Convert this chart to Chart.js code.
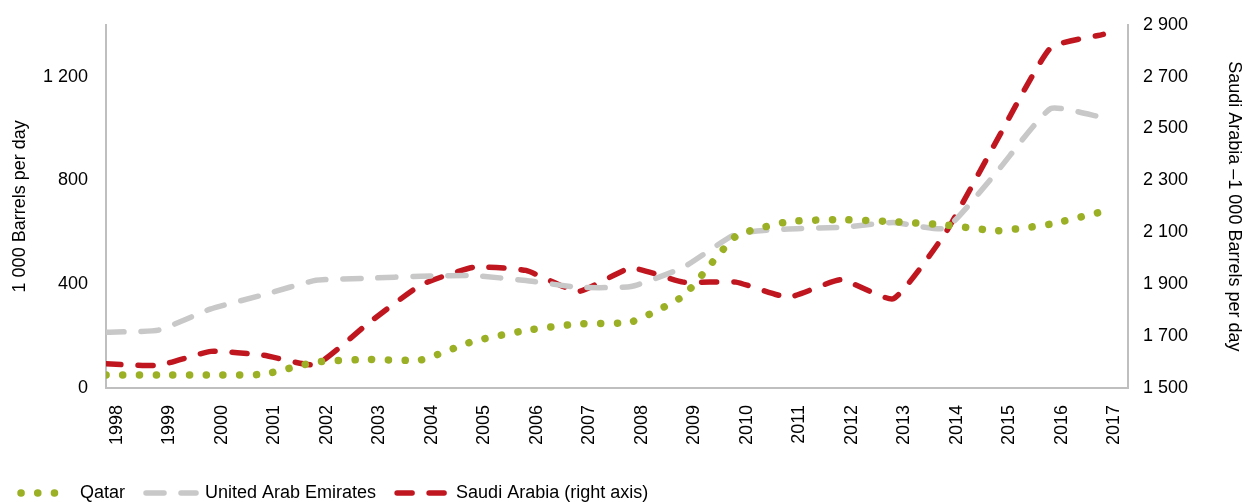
<!DOCTYPE html>
<html lang="en">
<head>
  <meta charset="UTF-8" />
  <title>Oil production - Qatar, UAE, Saudi Arabia</title>
  <script src="https://cdn.jsdelivr.net/npm/chart.js"></script>
  <style>
    html, body { margin: 0; padding: 0; background: #fff; }
    #wrap { width: 1245px; height: 502px; }
  </style>
</head>
<body>
  <div id="wrap"><canvas id="oilChart" width="1245" height="502"></canvas></div>

  <script>
    // data
    const years = ['1998', '1999', '2000', '2001', '2002', '2003', '2004', '2005', '2006', '2007',
                   '2008', '2009', '2010', '2011', '2012', '2013', '2014', '2015', '2016', '2017'];
    const qatar = [50, 50, 50, 53, 100, 110, 108, 180, 222, 247, 254, 355, 585, 641, 649, 641, 628, 606, 632, 680];
    const uae = [215, 223, 305, 359, 415, 423, 431, 433, 414, 388, 391, 465, 593, 613, 619, 638, 616, 840, 1077, 1042];
    const saudi = [1593, 1587, 1641, 1626, 1590, 1750, 1897, 1965, 1953, 1872, 1962, 1908, 1908, 1850, 1917, 1844, 2100, 2465, 2812, 2863];
    const leftTicks = [0, 400, 800, 1200];
    const rightTicks = [1500, 1700, 1900, 2100, 2300, 2500, 2700, 2900];

    const FONT = "'Liberation Sans', Arial, sans-serif";
    const axisColor = '#bfbfbf';

    function spaced(v) {
      return String(v).replace(/\B(?=(\d{3})+(?!\d))/g, ' ');
    }

    function pts(arr) {
      return arr.map((v, i) => ({ x: i, y: v }));
    }

    const ctx = document.getElementById('oilChart').getContext('2d');
    new Chart(ctx, {
      type: 'line',
      data: {
        datasets: [
          {
            label: 'Qatar',
            data: pts(qatar),
            yAxisID: 'y',
            borderColor: '#9bb024',
            backgroundColor: '#9bb024',
            borderWidth: 7.5,
            borderDash: [0.1, 16.6],
            borderCapStyle: 'round',
            pointRadius: 0,
            tension: 0.15
          },
          {
            label: 'United Arab Emirates',
            data: pts(uae),
            yAxisID: 'y',
            borderColor: '#c8c8c8',
            backgroundColor: '#c8c8c8',
            borderWidth: 5.5,
            borderDash: [18, 17],
            borderCapStyle: 'round',
            pointRadius: 0,
            tension: 0.15
          },
          {
            label: 'Saudi Arabia (right axis)',
            data: pts(saudi),
            yAxisID: 'y2',
            borderColor: '#c0161f',
            backgroundColor: '#c0161f',
            borderWidth: 5.5,
            borderDash: [15, 17],
            borderCapStyle: 'round',
            pointRadius: 0,
            tension: 0.15
          }
        ]
      },
      options: {
        responsive: false,
        animation: false,
        layout: { padding: { left: 0, right: 0, top: 12, bottom: -10 } },
        plugins: {
          tooltip: { enabled: false },
          legend: {
            position: 'bottom',
            align: 'start',
            labels: {
              usePointStyle: true,
              pointStyle: 'line',
              pointStyleWidth: 50,
              color: '#000',
              padding: 21,
              font: { family: FONT, size: 18 },
              generateLabels: chart => chart.data.datasets.map((ds, i) => ({
                text: ds.label,
                datasetIndex: i,
                fillStyle: ds.borderColor,
                strokeStyle: ds.borderColor,
                fontColor: '#000',
                lineWidth: ds.borderWidth,
                lineDash: ds.borderDash,
                lineCap: 'round',
                pointStyle: 'line',
                hidden: false
              }))
            }
          }
        },
        scales: {
          x: {
            type: 'linear',
            min: 0,
            max: 19.47,
            afterBuildTicks: s => { s.ticks = years.map((_, i) => ({ value: i })); },
            afterFit: s => { s.height += 1; },
            grid: { display: false, drawTicks: false },
            border: { display: true, color: axisColor, width: 2 },
            ticks: {
              autoSkip: false,
              minRotation: 90,
              maxRotation: 90,
              labelOffset: 11,
              padding: 17,
              color: '#000',
              font: { family: FONT, size: 18 },
              callback: v => years[v]
            }
          },
          y: {
            position: 'left',
            min: 0,
            max: 1400,
            afterBuildTicks: s => { s.ticks = leftTicks.map(v => ({ value: v })); },
            afterFit: s => { s.width = 106; },
            grid: { display: false, drawTicks: false },
            border: { display: true, color: axisColor, width: 2 },
            title: {
              display: true,
              text: '1 000 Barrels per day',
              color: '#000',
              font: { family: FONT, size: 18 },
              padding: { top: 9, bottom: 0 }
            },
            ticks: {
              padding: 18,
              color: '#000',
              font: { family: FONT, size: 18, lineHeight: 0.75 },
              callback: v => spaced(v)
            }
          },
          y2: {
            position: 'right',
            min: 1500,
            max: 2900,
            afterBuildTicks: s => { s.ticks = rightTicks.map(v => ({ value: v })); },
            afterFit: s => { s.width = 117; },
            grid: { display: false, drawTicks: false },
            border: { display: true, color: axisColor, width: 2 },
            title: {
              display: true,
              text: 'Saudi Arabia \u20131 000 Barrels per day',
              color: '#000',
              font: { family: FONT, size: 18 },
              padding: { top: 0, bottom: 0 }
            },
            ticks: {
              padding: 15,
              color: '#000',
              font: { family: FONT, size: 18, lineHeight: 0.75 },
              callback: v => spaced(v)
            }
          }
        }
      }
    });
  </script>
</body>
</html>
